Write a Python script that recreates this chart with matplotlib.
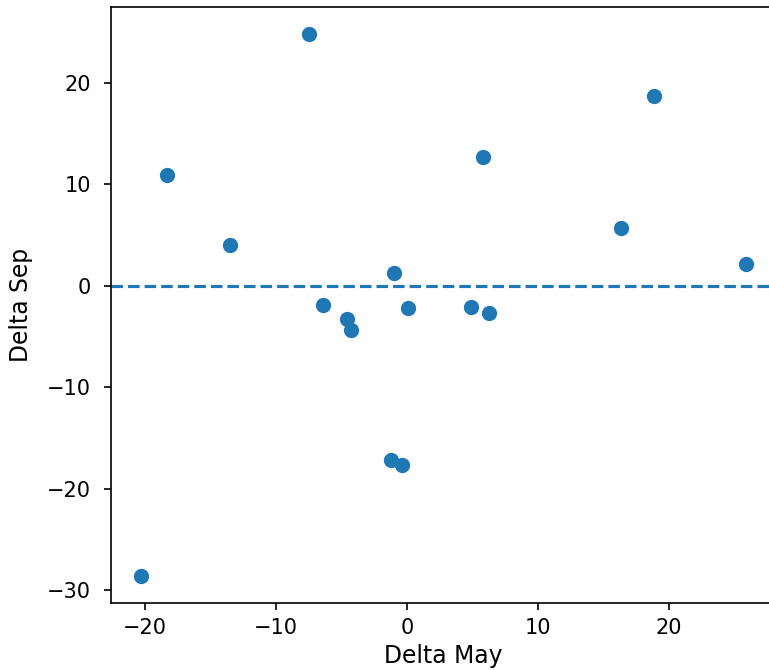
import matplotlib.pyplot as plt

# Change in May vs change in September
delta_may = [-20.3, -18.3, -13.5, -7.5, -6.4, -4.6, -4.3, -1.0, -1.2, -0.4,
             0.1, 4.9, 5.8, 6.3, 16.4, 18.9, 25.9]
delta_sep = [-28.6, 10.9, 4.0, 24.8, -1.9, -3.3, -4.4, 1.3, -17.2, -17.7,
             -2.2, -2.1, 12.7, -2.7, 5.7, 18.7, 2.1]

fig = plt.figure(figsize=(769 / 150, 670 / 150), dpi=150)
ax = fig.add_axes([0.1443, 0.1, 0.8648, 0.8896])

ax.scatter(delta_may, delta_sep, s=40)
ax.axhline(0, linestyle='--')

ax.tick_params(axis='y', pad=6)
ax.set_xlabel('Delta May', fontsize=11.3, labelpad=3)
ax.set_ylabel('Delta Sep', fontsize=11.3, labelpad=7)

fig.savefig('out.png', dpi=150)
